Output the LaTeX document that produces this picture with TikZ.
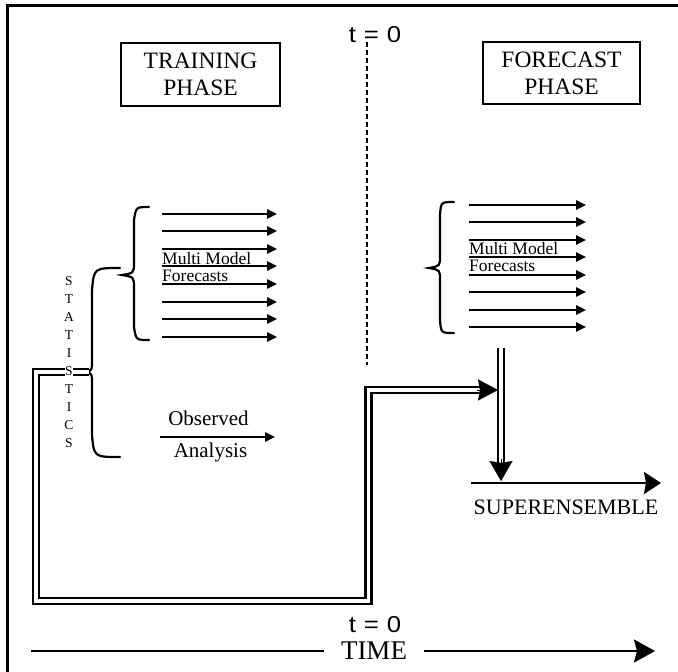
\documentclass[tikz,border=0pt]{standalone}
\usepackage{graphicx}
\usepackage{fontspec}
\setmainfont{Liberation Serif}
\newfontfamily\tzfont{Liberation Sans}
\usetikzlibrary{arrows.meta}
\begin{document}
\begin{tikzpicture}[x=1pt,y=-1pt,
  ln/.style={line width=2.4pt},
  fc/.style={ln,-{Triangle[length=10pt,width=9pt]}},
  brc/.style={line width=2.2pt, line cap=round},
  dbl/.style={double, double distance=3.6pt, line width=2.5pt},
  tipbig/.style={line width=0.1pt,-{Stealth[length=20pt,width=21pt,inset=2pt]}},
  phase/.style={draw, line width=2.6pt, align=center, inner sep=0pt,
     font=\fontsize{23.5}{27}\selectfont},
  mm/.style={anchor=north west, inner sep=0pt, align=left,
     font=\fontsize{17.5}{17.5}\selectfont},
  tzero/.style={inner sep=0pt, font=\tzfont\fontsize{23}{23}\selectfont},
  ]
\useasboundingbox (0,0) rectangle (678,672);

% frame (top and left edges)
\coordinate (fr1) at (678,5.3);
\coordinate (fr2) at (7.5,5.3);
\coordinate (fr3) at (7.5,672);
\draw[line width=2.8pt] (fr1) -- (fr2) -- (fr3);

% phase boxes
\node[phase, minimum width=159pt, minimum height=63pt] (train) at (200.5,74.5) {TRAINING\\PHASE};
\node[phase, minimum width=157pt, minimum height=62pt] (fcst) at (561.5,73) {FORECAST\\PHASE};

% t = 0 top and dashed line
\node[tzero] (t0top) at (375,35) {\scalebox{1.12}[1]{t\kern7pt=\kern7pt0}};
\coordinate (dtop) at (367,42);
\coordinate (dbot) at (367,365);
\draw[line width=2pt, dash pattern=on 5pt off 3pt] (dtop) -- (dbot);

% left forecasts
\foreach \y [count=\i] in {214,231,249,266,284,302,319,337}{
  \coordinate (la\i) at (162,\y);
  \coordinate (lb\i) at (277,\y);
  \draw[fc] (la\i) -- (lb\i);
}
\node[mm] (mmleft) at (162,252) {Multi Model\\Forecasts};

% right forecasts
\foreach \y [count=\i] in {205,222,240,257,275,292,310,327}{
  \coordinate (ra\i) at (469,\y);
  \coordinate (rb\i) at (586,\y);
  \draw[fc] (ra\i) -- (rb\i);
}
\node[mm] (mmright) at (469,242) {Multi Model\\Forecasts};

% left small brace
\draw[brc] (149,207) .. controls (136,207) .. (134,220) -- (134,262)
   .. controls (134,273) .. (122,275) .. controls (134,277) .. (134,288)
   -- (134,327) .. controls (136,340) .. (149,340);
% right small brace
\draw[brc] (454,202) .. controls (441,202) .. (440,215) -- (440,256)
   .. controls (440,266) .. (429,268) .. controls (440,270) .. (440,280)
   -- (440,320) .. controls (441,333) .. (454,333);
% big STATISTICS brace
\draw[brc] (120,268) .. controls (94,268) .. (92,290) -- (92,360)
   .. controls (92,370) .. (87,372) .. controls (92,374) .. (92,384)
   -- (92,435) .. controls (94,457) .. (120,457);

% observed analysis
\node[inner sep=0pt, font=\fontsize{21}{21}\selectfont] (obs) at (208.5,418.5) {Observed};
\node[inner sep=0pt, font=\fontsize{21}{21}\selectfont] (ana) at (210.5,452) {Analysis};
\coordinate (oa) at (160,437);
\coordinate (ob) at (275,437);
\draw[fc] (oa) -- (ob);

% double connector from statistics to superensemble
\coordinate (btip) at (89,372);
\coordinate (c1) at (36,372);
\coordinate (c2) at (36,601);
\coordinate (c3) at (368.5,601);
\coordinate (c4) at (368.5,390);
\coordinate (hend) at (482,390);
\coordinate (hback) at (477,390);
\coordinate (htip) at (498,390);
\draw[dbl] (btip) -- (c1) -- (c2) -- (c3) -- (c4) -- (hend);
\draw[tipbig] (hback) -- (htip);

\coordinate (vtop) at (501,348);
\coordinate (vend) at (501,465);
\coordinate (vback) at (501,459);
\coordinate (vtip) at (501,481);
\draw[dbl] (vtop) -- (vend);
\draw[tipbig, -{Stealth[length=20pt,width=23pt,inset=2pt]}] (vback) -- (vtip);

% STATISTICS letters
\foreach \l [count=\i] in {S,T,A,T,I,S,T,I,C,S}{
  \node[fill=white, inner sep=0.6pt, font=\fontsize{13.5}{13.5}\selectfont] (st\i) at (69,{281+(\i-1)*18}) {\l};
}

% superensemble
\coordinate (sa) at (471,483);
\coordinate (sb) at (661,483);
\draw[ln, -{Stealth[length=17pt,width=22pt,inset=2pt]}] (sa) -- (sb);
\node[inner sep=0pt, font=\fontsize{22}{22}\selectfont] (super) at (566,507.5) {SUPERENSEMBLE};

% time axis
\node[tzero] (t0bot) at (375,624.5) {\scalebox{1.12}[1]{t\kern7pt=\kern7pt0}};
\node[inner xsep=17pt, inner ysep=0pt, font=\fontsize{27}{27}\selectfont] (time) at (374,651) {TIME};
\coordinate (tl) at (31,651);
\coordinate (tr) at (655,651);
\draw[ln] (tl) -- (time.west);
\draw[ln, -{Stealth[length=21pt,width=23pt,inset=3pt]}] (time.east) -- (tr);
\end{tikzpicture}
\end{document}
